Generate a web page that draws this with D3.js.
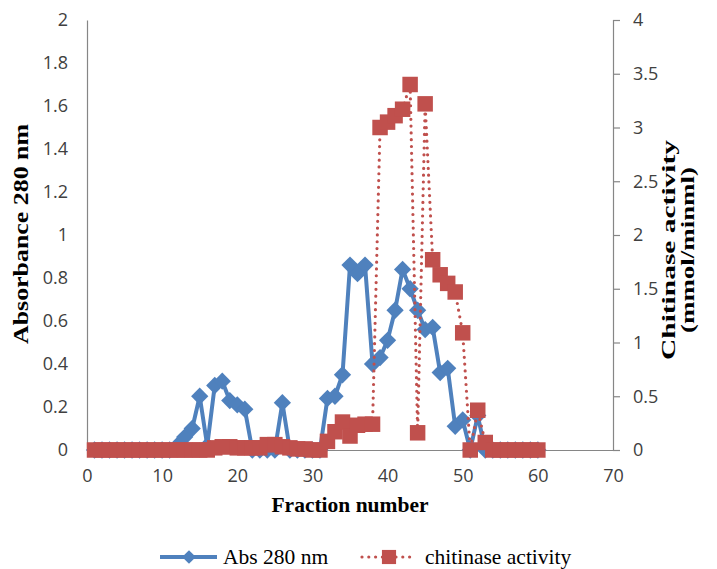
<!DOCTYPE html>
<html>
<head>
<meta charset="utf-8">
<script src="https://cdn.jsdelivr.net/npm/d3@7"></script>
<style>
  body { margin: 0; background: #fff; }
  svg { display: block; }
</style>
</head>
<body>
<script>
// fraction numbers
var fractions = [1, 2, 3, 4, 5, 6, 7, 8, 9, 10,
    11, 12, 13, 14, 15, 16, 17, 18, 19, 20,
    21, 22, 23, 24, 25, 26, 27, 28, 29, 30,
    31, 32, 33, 34, 35, 36, 37, 38, 39, 40,
    41, 42, 43, 44, 45, 46, 47, 48, 49, 50,
    51, 52, 53, 54, 55, 56, 57, 58, 59, 60];

// Abs 280 nm (left axis)
var abs280 = [0, 0, 0, 0, 0, 0, 0, 0, 0, 0,
    0, 0.02, 0.06, 0.10, 0.25, 0.02, 0.30, 0.32, 0.23, 0.21,
    0.19, 0, 0, 0, 0, 0.22, 0, 0, 0, 0,
    0, 0.24, 0.25, 0.35, 0.86, 0.82, 0.86, 0.40, 0.43, 0.51,
    0.65, 0.84, 0.75, 0.65, 0.56, 0.57, 0.36, 0.38, 0.11, 0.14,
    0, 0.16, 0, 0, 0, 0, 0, 0, 0, 0];

// chitinase activity (right axis)
var chitinase = [0, 0, 0, 0, 0, 0, 0, 0, 0, 0,
    0, 0, 0, 0, 0, 0, 0.02, 0.03, 0.03, 0.02,
    0.02, 0.02, 0.02, 0.05, 0.05, 0.03, 0.02, 0.01, 0.01, 0,
    0, 0.08, 0.17, 0.26, 0.13, 0.23, 0.24, 0.24, 3.00, 3.05,
    3.11, 3.17, 3.40, 0.16, 3.22, 1.77, 1.63, 1.55, 1.47, 1.09,
    0, 0.37, 0.07, 0, 0, 0, 0, 0, 0, 0];

var xTicks = [0, 10, 20, 30, 40, 50, 60, 70];
var leftTicks = [0, 0.2, 0.4, 0.6, 0.8, 1, 1.2, 1.4, 1.6, 1.8, 2];
var rightTicks = [0, 0.5, 1, 1.5, 2, 2.5, 3, 3.5, 4];

var blue = "#4F81BD", red = "#C0504D", axisGrey = "#868686";
var serif = "'Liberation Serif', 'Times New Roman', serif";

var width = 717, height = 569;
var plot = { left: 87, right: 613, top: 20, bottom: 450 };

var svg = d3.select("body").append("svg")
    .attr("width", width)
    .attr("height", height);

svg.append("rect").attr("width", width).attr("height", height).attr("fill", "#fff");

// scales
var x = d3.scaleLinear().domain([0, 70]).range([plot.left, plot.right]);
var yL = d3.scaleLinear().domain([0, 2]).range([plot.bottom, plot.top]);
var yR = d3.scaleLinear().domain([0, 4]).range([plot.bottom, plot.top]);

var fmt = function (d) { return String(+d.toFixed(1)); };

// left axis
var gL = svg.append("g")
    .attr("transform", "translate(" + plot.left + ",0)")
    .call(d3.axisLeft(yL).tickValues(leftTicks).tickSize(0).tickPadding(19).tickFormat(fmt));

// right axis
var gR = svg.append("g")
    .attr("transform", "translate(" + plot.right + ",0)")
    .call(d3.axisRight(yR).tickValues(rightTicks).tickSize(7).tickPadding(13).tickFormat(fmt));

// bottom axis
var gX = svg.append("g")
    .attr("transform", "translate(0," + plot.bottom + ")")
    .call(d3.axisBottom(x).tickValues(xTicks).tickSize(0).tickPadding(19).tickFormat(fmt));

[gL, gR, gX].forEach(function (g) {
    g.select(".domain").attr("stroke", axisGrey).attr("stroke-width", 1.2);
    g.selectAll(".tick line").attr("stroke", axisGrey).attr("stroke-width", 1.2);
    g.selectAll(".tick text")
        .attr("fill", "#404040")
        .style("font-family", "'Open Sans', Lato, sans-serif")
        .style("font-size", "18px");
});

// axis titles
svg.append("text")
    .attr("transform", "translate(28,234) rotate(-90)")
    .attr("text-anchor", "middle")
    .attr("textLength", 220)
    .attr("lengthAdjust", "spacingAndGlyphs")
    .style("font-family", serif)
    .style("font-weight", "bold")
    .style("font-size", "21px")
    .text("Absorbance 280 nm");

svg.append("text")
    .attr("x", x(35))
    .attr("y", 512)
    .attr("text-anchor", "middle")
    .style("font-family", serif)
    .style("font-weight", "bold")
    .style("font-size", "21.5px")
    .text("Fraction number");

svg.append("text")
    .attr("transform", "translate(675,250) rotate(-90)")
    .attr("text-anchor", "middle")
    .attr("textLength", 220)
    .attr("lengthAdjust", "spacingAndGlyphs")
    .style("font-family", serif)
    .style("font-weight", "bold")
    .style("font-size", "18px")
    .text("Chitinase activity");

svg.append("text")
    .attr("transform", "translate(694,250) rotate(-90)")
    .attr("text-anchor", "middle")
    .attr("textLength", 166)
    .attr("lengthAdjust", "spacingAndGlyphs")
    .style("font-family", serif)
    .style("font-weight", "bold")
    .style("font-size", "18px")
    .text("(mmol/minml)");

// series
var absData = fractions.map(function (f, i) { return { f: f, v: abs280[i] }; });
var chiData = fractions.map(function (f, i) { return { f: f, v: chitinase[i] }; });

var absLine = d3.line().x(function (d) { return x(d.f); }).y(function (d) { return yL(d.v); });
var chiLine = d3.line().x(function (d) { return x(d.f); }).y(function (d) { return yR(d.v); });

svg.append("path")
    .datum(absData)
    .attr("d", absLine)
    .attr("fill", "none")
    .attr("stroke", blue)
    .attr("stroke-width", 4)
    .attr("stroke-linejoin", "round");

var diamond = d3.symbol().type(d3.symbolDiamond2).size(190);
svg.append("g").selectAll("path")
    .data(absData)
    .enter().append("path")
    .attr("d", diamond)
    .attr("transform", function (d) { return "translate(" + x(d.f) + "," + yL(d.v) + ")"; })
    .attr("fill", blue);

svg.append("path")
    .datum(chiData)
    .attr("d", chiLine)
    .attr("fill", "none")
    .attr("stroke", red)
    .attr("stroke-width", 3.2)
    .attr("stroke-linecap", "round")
    .attr("stroke-dasharray", "0 6.8");

var square = d3.symbol().type(d3.symbolSquare).size(240);
svg.append("g").selectAll("path")
    .data(chiData)
    .enter().append("path")
    .attr("d", square)
    .attr("transform", function (d) { return "translate(" + x(d.f) + "," + yR(d.v) + ")"; })
    .attr("fill", red);

// legend
var legY = 557;
var leg = svg.append("g");
leg.append("line").attr("x1", 160).attr("x2", 217).attr("y1", legY).attr("y2", legY)
    .attr("stroke", blue).attr("stroke-width", 4);
leg.append("path").attr("d", d3.symbol().type(d3.symbolDiamond2).size(120))
    .attr("transform", "translate(189," + legY + ")").attr("fill", blue);
leg.append("text").attr("x", 223).attr("y", legY + 7)
    .style("font-family", serif)
    .style("font-size", "21.5px")
    .text("Abs 280 nm");

leg.append("line").attr("x1", 362).attr("x2", 415).attr("y1", legY).attr("y2", legY)
    .attr("stroke", red).attr("stroke-width", 3.2)
    .attr("stroke-linecap", "round").attr("stroke-dasharray", "0 6.8");
leg.append("path").attr("d", d3.symbol().type(d3.symbolSquare).size(200))
    .attr("transform", "translate(389," + legY + ")").attr("fill", red);
leg.append("text").attr("x", 425).attr("y", legY + 7)
    .style("font-family", serif)
    .style("font-size", "21.5px")
    .text("chitinase activity");
</script>
</body>
</html>
